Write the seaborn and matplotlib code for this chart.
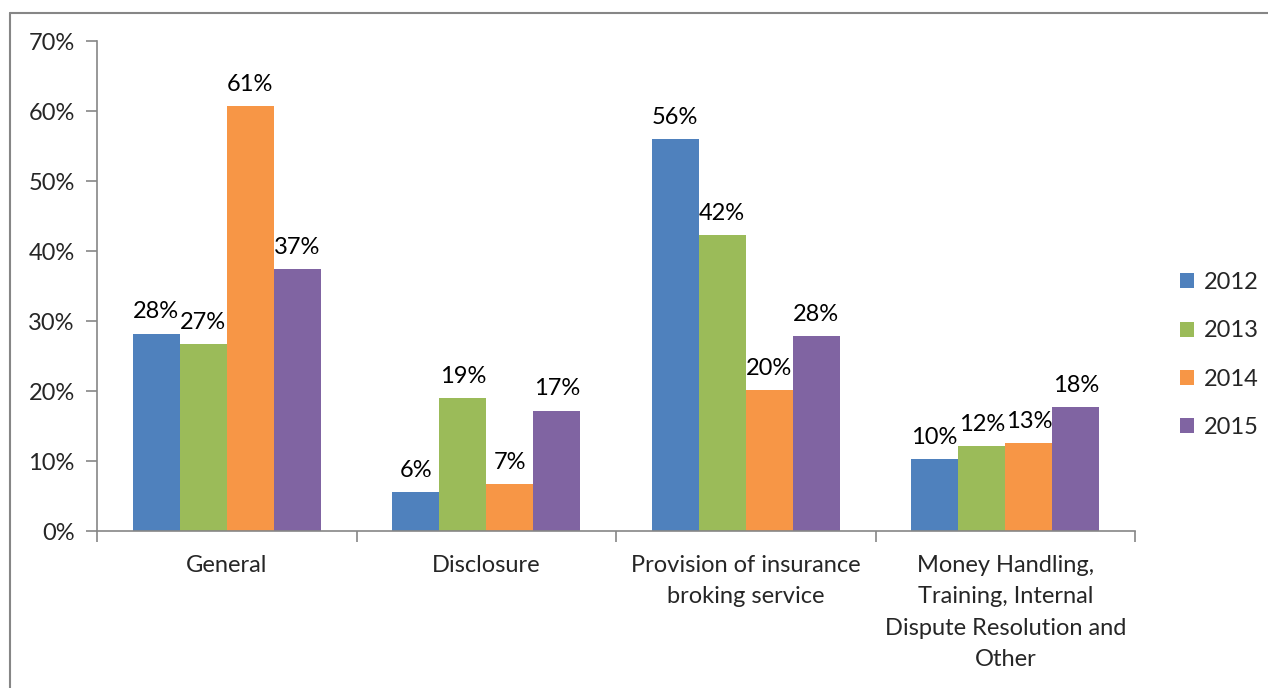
import matplotlib
matplotlib.use("Agg")
import matplotlib.pyplot as plt
import seaborn as sns
import pandas as pd
import numpy as np
from matplotlib.patches import Patch
from matplotlib.lines import Line2D

categories = ["General", "Disclosure", "Provision of insurance\nbroking service",
              "Money Handling,\nTraining, Internal\nDispute Resolution and\nOther"]
years = ["2012", "2013", "2014", "2015"]
v2012 = [28.2, 5.6, 56.0, 10.3]
v2013 = [26.7, 19.0, 42.3, 12.1]
v2014 = [60.7, 6.7, 20.1, 12.6]
v2015 = [37.4, 17.2, 27.9, 17.7]
yticks = [0, 10, 20, 30, 40, 50, 60, 70]
colors = ["#4F81BD", "#9BBB59", "#F79646", "#8064A2"]

rows = []
for yr, vals in zip(years, [v2012, v2013, v2014, v2015]):
    for c, v in zip(categories, vals):
        rows.append({"category": c, "year": yr, "value": v})
df = pd.DataFrame(rows)

sns.set_theme(style="white")
plt.rcParams["font.family"] = ["Lato", "DejaVu Sans"]
FS = 17

fig = plt.figure(figsize=(12.68, 6.88), dpi=100)
ax = fig.add_axes([97/1268, 1-531/688, (1135-97)/1268, (531-41)/688])

sns.barplot(data=df, x="category", y="value", hue="year", palette=colors,
            width=0.725, ax=ax, legend=False, saturation=1, edgecolor="none")

for cont in ax.containers:
    ax.bar_label(cont, labels=[f"{b.get_height():.0f}%" for b in cont],
                 padding=8, fontsize=FS, color="black")

ax.set_ylim(0, 70)
ax.set_xlim(-0.5, 3.5)
ax.set_yticks(yticks)
ax.set_yticklabels([f"{t}%" for t in yticks], fontsize=FS)
ax.set_xlabel("")
ax.set_ylabel("")
ax.set_xticks(range(len(categories)))
ax.set_xticklabels(categories, fontsize=FS, linespacing=1.62, va="top")
ax.set_xticks(np.arange(-0.5, 3.6, 1.0), minor=True)
ax.tick_params(axis="x", which="major", length=0, pad=17)
ax.tick_params(axis="x", which="minor", length=8, width=1.2, color="#868686", direction="out", bottom=True)
ax.tick_params(axis="y", which="major", length=8, width=1.2, color="#868686", direction="out", left=True, pad=8)
for s in ["top", "right"]:
    ax.spines[s].set_visible(False)
for s in ["left", "bottom"]:
    ax.spines[s].set_color("#868686")
    ax.spines[s].set_linewidth(1.2)

handles = [Patch(facecolor=c, edgecolor="none") for c in colors]
fig.legend(handles, years, loc="center left", bbox_to_anchor=(1168/1268, 1-355/688),
           frameon=False, fontsize=FS, handlelength=0.6, handleheight=0.6,
           labelspacing=1.15, handletextpad=0.4, borderpad=0)

x0 = 9.5/1268
y0 = 1 - 12.5/688
fig.add_artist(Line2D([x0, x0], [0, y0], transform=fig.transFigure, color="#868686", lw=1.5))
fig.add_artist(Line2D([x0, 1], [y0, y0], transform=fig.transFigure, color="#868686", lw=1.5))

fig.savefig("out.png", dpi=100)
